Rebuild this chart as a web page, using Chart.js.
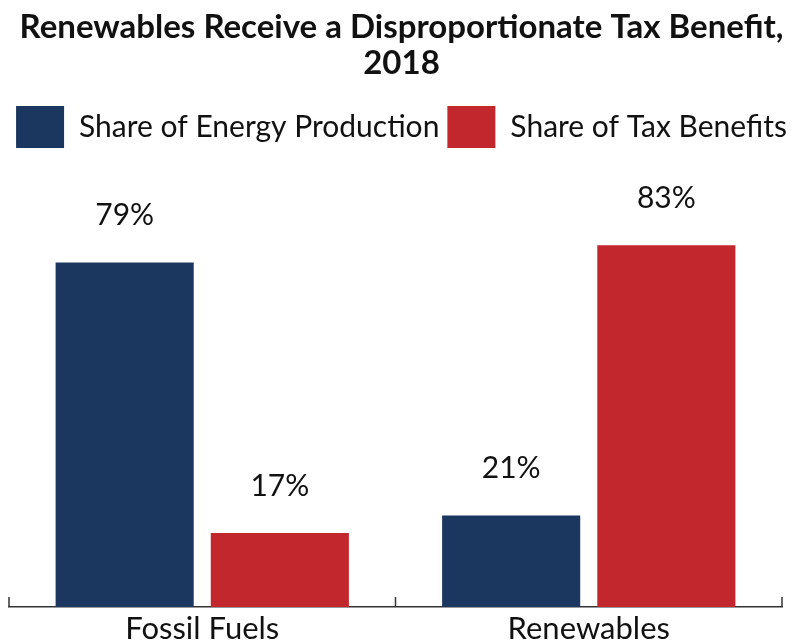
<!DOCTYPE html>
<html>
<head>
<meta charset="utf-8">
<script src="https://cdn.jsdelivr.net/npm/chart.js@4"></script>
<style>
    html, body { margin: 0; padding: 0; background: #fff; }
    #wrap { width: 803px; height: 643px; position: relative; }
</style>
</head>
<body>
<div id="wrap"><canvas id="taxChart"></canvas></div>
<script>
// Data
const categories = ['Fossil Fuels', 'Renewables'];
const energyShare = [79, 21];
const taxShare = [17, 83];
const seriesNames = ['Share of Energy Production', 'Share of Tax Benefits'];

const COLORS = {
    navy: '#1b365f',
    red: '#c1272d',
    text: '#111111'
};

const FONT = 'Lato, "Open Sans", sans-serif';

// value labels above the bars
const valueLabels = {
    id: 'valueLabels',
    afterDatasetsDraw(chart) {
        const ctx = chart.ctx;
        ctx.save();
        ctx.font = '30px ' + FONT;
        ctx.fillStyle = COLORS.text;
        ctx.textAlign = 'center';
        ctx.textBaseline = 'bottom';
        chart.data.datasets.forEach((ds, i) => {
            chart.getDatasetMeta(i).data.forEach((bar, j) => {
                ctx.fillText(ds.data[j] + '%', bar.x, bar.y - 32);
            });
        });
        ctx.restore();
    }
};

// small upward ticks at category boundaries
const boundaryTicks = {
    id: 'boundaryTicks',
    afterDraw(chart) {
        const x = chart.scales.x;
        const ctx = chart.ctx;
        const yBase = chart.chartArea.bottom;
        ctx.save();
        ctx.strokeStyle = '#333';
        ctx.lineWidth = 1.5;
        for (let i = 0; i <= categories.length; i++) {
            const px = x.getPixelForValue(i - 0.5);
            ctx.beginPath();
            ctx.moveTo(px, yBase);
            ctx.lineTo(px, yBase - 10);
            ctx.stroke();
        }
        ctx.restore();
    }
};

// invisible side axes used only as margins
const hiddenSide = (w) => ({
    display: true,
    min: 0,
    max: 103,
    grid: { display: false },
    border: { display: false },
    ticks: { display: false },
    afterFit(scale) { scale.width = w; }
});

new Chart(document.getElementById('taxChart'), {
    type: 'bar',
    data: {
        labels: categories,
        datasets: [{
            label: seriesNames[0],
            data: energyShare,
            backgroundColor: COLORS.navy
        }, {
            label: seriesNames[1],
            data: taxShare,
            backgroundColor: COLORS.red
        }]
    },
    options: {
        responsive: true,
        maintainAspectRatio: false,
        animation: false,
        datasets: {
            bar: { categoryPercentage: 0.803, barPercentage: 0.89 }
        },
        layout: { padding: 0 },
        plugins: {
            title: {
                display: true,
                text: ['Renewables Receive a Disproportionate Tax Benefit,', '2018'],
                color: COLORS.text,
                font: { family: FONT, size: 33, weight: 'bold', lineHeight: 1.09 },
                padding: { top: 9, bottom: 17 }
            },
            legend: {
                labels: {
                    color: COLORS.text,
                    font: { family: FONT, size: 30 },
                    boxWidth: 48,
                    boxHeight: 42,
                    padding: 8
                }
            },
            tooltip: { enabled: false }
        },
        scales: {
            x: {
                grid: { display: false },
                border: { display: true, color: '#333', width: 1.5 },
                ticks: { color: COLORS.text, font: { family: FONT, size: 31, lineHeight: 0.9 }, padding: 0 }
            },
            y: Object.assign(hiddenSide(9), { position: 'left' }),
            yRight: Object.assign(hiddenSide(21), { position: 'right' })
        }
    },
    plugins: [valueLabels, boundaryTicks]
});
</script>
</body>
</html>
